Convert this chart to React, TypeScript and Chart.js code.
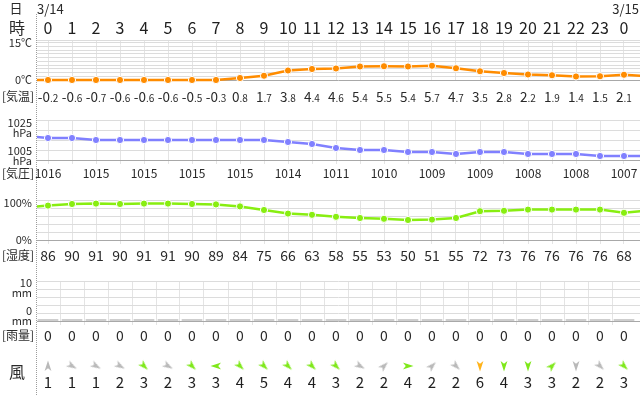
import React, { useEffect, useRef } from 'react';
import { Chart, registerables } from 'chart.js';

Chart.register(...registerables);

// ---------------- data ----------------
const hourLabels = ['0','1','2','3','4','5','6','7','8','9','10','11','12','13','14','15','16','17','18','19','20','21','22','23','0'];
const dateLabels = ['3/14', '3/15'];

const tempValues = [-0.2,-0.6,-0.7,-0.6,-0.6,-0.6,-0.5,-0.3,0.8,1.7,3.8,4.4,4.6,5.4,5.5,5.4,5.7,4.7,3.5,2.8,2.2,1.9,1.4,1.5,2.1];
const tempBefore = -0.1;
const tempAfter = 1.5;

const pressureValues = [1016,1016,1015,1015,1015,1015,1015,1015,1015,1015,1014,1013,1011,1010,1010,1009,1009,1008,1009,1009,1008,1008,1008,1007,1007];
const pressureBefore = 1017;
const pressureAfter = 1007;

const humidityValues = [86,90,91,90,91,91,90,89,84,75,66,63,58,55,53,50,51,55,72,73,76,76,76,76,68];
const humidityBefore = 81;
const humidityAfter = 74;

const rainValues = [0,0,0,0,0,0,0,0,0,0,0,0,0,0,0,0,0,0,0,0,0,0,0,0,0];

const windSpeeds = [1,1,1,2,3,2,3,3,4,5,4,4,3,2,2,4,2,2,6,4,3,3,2,2,3];
const windDirections = [0,120,120,120,135,120,135,270,135,135,135,135,135,120,45,90,45,135,180,180,180,45,180,135,135];

const tempTicks = [0,1.5,3,4.5,6,7.5,9,10.5,12,13.5,15,16];
const pressureTicks = [1005,1010,1015,1020,1025];
const humidityTicks = [0,20,40,60,80,100];
const rainTicks = [0,2,4,6,8,10];

// ---------------- styling ----------------
const FONT = '"Noto Sans CJK JP", "Noto Sans", sans-serif';
const TEXT = '#2a2a2a';
const X_MIN = -11 / 24;
const X_MAX = X_MIN + 603 / 24;

const BANDS = [
  { top: 0, h: 108, areaTop: 40, areaBottom: 80, tick: 0 },
  { top: 108, h: 80, areaTop: 120, areaBottom: 160, tick: 4 },
  { top: 188, h: 80, areaTop: 200, areaBottom: 240, tick: 4 },
  { top: 268, h: 77, areaTop: 281, areaBottom: 321, tick: 4 },
  { top: 345, h: 50, areaTop: 356, areaBottom: 376, tick: 0 },
];

function txt(ctx: any, s: string, x: number, cy: number, size: number, align: any = 'center', color = TEXT) {
  ctx.save();
  ctx.font = `${size}px ${FONT}`;
  ctx.fillStyle = color;
  ctx.textAlign = align;
  ctx.textBaseline = 'alphabetic';
  ctx.fillText(s, x, cy + size * 0.36);
  ctx.restore();
}

function tempText(ctx: any, v: number, x: number, cy: number) {
  const s = v.toFixed(1);
  const [a, b] = s.split('.');
  const big = 13.5, small = 10;
  ctx.save();
  ctx.fillStyle = TEXT;
  ctx.textBaseline = 'alphabetic';
  ctx.textAlign = 'left';
  ctx.font = `${big}px ${FONT}`;
  const wa = ctx.measureText(a).width;
  ctx.font = `${small}px ${FONT}`;
  const wb = ctx.measureText('.' + b).width;
  const x0 = x - (wa + wb) / 2;
  const base = cy + big * 0.36;
  ctx.font = `${big}px ${FONT}`;
  ctx.fillText(a, x0, base);
  ctx.font = `${small}px ${FONT}`;
  ctx.fillText('.' + b, x0 + wa, base);
  ctx.restore();
}

function xScale(gridValues: number[], tick: number, showGrid = true) {
  return {
    type: 'linear',
    min: X_MIN,
    max: X_MAX,
    offset: false,
    display: showGrid,
    afterBuildTicks: (s: any) => { s.ticks = gridValues.map((v) => ({ value: v })); },
    ticks: { display: false },
    border: { display: false },
    grid: { color: '#e4e4e4', lineWidth: 1, drawTicks: tick > 0, tickLength: tick, offset: false },
  };
}

function yScale(min: number, max: number, tickValues: number[]) {
  return {
    type: 'linear',
    min,
    max,
    afterBuildTicks: (s: any) => { s.ticks = tickValues.map((v) => ({ value: v })); },
    ticks: { display: false },
    border: { display: false },
    grid: {
      drawTicks: false,
      lineWidth: 1,
      color: (c: any) => (c.tick && c.tick.value === min ? '#a8a8a8' : '#dcdcdc'),
    },
  };
}

function layoutFor(b: any) {
  return {
    autoPadding: false,
    padding: { left: 37, right: 0, top: b.areaTop - b.top, bottom: b.top + b.h - b.areaBottom - b.tick },
  };
}

function lineDataset(points: any[], color: string) {
  return {
    data: points,
    borderColor: color,
    backgroundColor: color,
    borderWidth: 2.5,
    pointRadius: 3.6,
    pointBorderColor: '#ffffff',
    pointBorderWidth: 1,
    pointBackgroundColor: color,
    tension: 0,
    clip: { left: 0, right: 0, top: 8, bottom: 8 },
  };
}

function makeDart(color: string) {
  const c = document.createElement('canvas');
  c.width = 14;
  c.height = 14;
  const g = c.getContext('2d') as CanvasRenderingContext2D;
  g.translate(7, 7);
  g.beginPath();
  g.moveTo(0, -5.5);
  g.lineTo(3.4, 5);
  g.lineTo(0, 2.2);
  g.lineTo(-3.4, 5);
  g.closePath();
  g.fillStyle = color;
  g.fill();
  return c;
}

const hourIdx = hourLabels.map((_, i) => i);
const allGrid = hourIdx.slice();
const halfGrid = hourIdx.slice(0, 24).map((i) => i + 0.5);

export default function App() {
  const r0 = useRef<HTMLCanvasElement>(null);
  const r1 = useRef<HTMLCanvasElement>(null);
  const r2 = useRef<HTMLCanvasElement>(null);
  const r3 = useRef<HTMLCanvasElement>(null);
  const r4 = useRef<HTMLCanvasElement>(null);
  const refs = [r0, r1, r2, r3, r4];

  useEffect(() => {
    const charts: any[] = [];
    const common = { responsive: false, animation: false, devicePixelRatio: 1, events: [], plugins: { legend: { display: false }, tooltip: { enabled: false } } };

    // ---- header + temperature ----
    const b0 = BANDS[0];
    const tempPoints = [{ x: -1, y: Math.max(0, tempBefore) }]
      .concat(tempValues.map((v, i) => ({ x: i, y: Math.max(0, v) })))
      .concat([{ x: hourLabels.length, y: Math.max(0, tempAfter) }]);
    charts.push(new Chart(r0.current as any, {
      type: 'line',
      data: { datasets: [lineDataset(tempPoints, '#ff8c00') as any] },
      options: {
        ...common,
        layout: layoutFor(b0),
        scales: { x: xScale(allGrid, b0.tick) as any, y: yScale(0, 16, tempTicks) as any },
      } as any,
      plugins: [{
        id: 'tempText',
        afterDraw(chart: any) {
          const ctx = chart.ctx;
          const xs = chart.scales.x;
          txt(ctx, '日', 16, 8.5, 13);
          txt(ctx, '時', 17, 28.5, 16);
          txt(ctx, dateLabels[0], 37, 9, 13, 'left');
          txt(ctx, dateLabels[1], 639, 9, 13, 'right');
          hourLabels.forEach((h, i) => txt(ctx, h, xs.getPixelForValue(i), 28.5, 16, 'center', '#1e1e1e'));
          txt(ctx, '15℃', 32, 43, 11, 'right');
          txt(ctx, '0℃', 32, 80, 11, 'right');
          txt(ctx, '[気温]', 18, 97, 12);
          tempValues.forEach((v, i) => tempText(ctx, v, xs.getPixelForValue(i), 97));
        },
      }],
    }));

    // ---- pressure ----
    const b1 = BANDS[1];
    const pPoints = [{ x: -1, y: pressureBefore }]
      .concat(pressureValues.map((v, i) => ({ x: i, y: v })))
      .concat([{ x: hourLabels.length, y: pressureAfter }]);
    charts.push(new Chart(r1.current as any, {
      type: 'line',
      data: { datasets: [lineDataset(pPoints, '#8080ff') as any] },
      options: {
        ...common,
        layout: layoutFor(b1),
        scales: { x: xScale(allGrid, b1.tick) as any, y: yScale(1005, 1025, pressureTicks) as any },
      } as any,
      plugins: [{
        id: 'pText',
        afterDraw(chart: any) {
          const ctx = chart.ctx;
          const xs = chart.scales.x;
          const o = -b1.top;
          txt(ctx, '1025', 32, 123 + o, 11, 'right');
          txt(ctx, 'hPa', 32, 133 + o, 11, 'right');
          txt(ctx, '1005', 32, 151 + o, 11, 'right');
          txt(ctx, 'hPa', 32, 161 + o, 11, 'right');
          txt(ctx, '[気圧]', 18, 173.5 + o, 12);
          pressureValues.forEach((v, i) => {
            if (i % 2 === 0) txt(ctx, String(v), xs.getPixelForValue(i), 173.5 + o, 12);
          });
        },
      }],
    }));

    // ---- humidity ----
    const b2 = BANDS[2];
    const hPoints = [{ x: -1, y: humidityBefore }]
      .concat(humidityValues.map((v, i) => ({ x: i, y: v })))
      .concat([{ x: hourLabels.length, y: humidityAfter }]);
    charts.push(new Chart(r2.current as any, {
      type: 'line',
      data: { datasets: [lineDataset(hPoints, '#88ee11') as any] },
      options: {
        ...common,
        layout: layoutFor(b2),
        scales: { x: xScale(allGrid, b2.tick) as any, y: yScale(0, 100, humidityTicks) as any },
      } as any,
      plugins: [{
        id: 'hText',
        afterDraw(chart: any) {
          const ctx = chart.ctx;
          const xs = chart.scales.x;
          const o = -b2.top;
          txt(ctx, '100%', 32, 203.5 + o, 11, 'right');
          txt(ctx, '0%', 32, 240.5 + o, 11, 'right');
          txt(ctx, '[湿度]', 18, 256 + o, 12);
          humidityValues.forEach((v, i) => txt(ctx, String(v), xs.getPixelForValue(i), 256 + o, 14));
        },
      }],
    }));

    // ---- rain ----
    const b3 = BANDS[3];
    charts.push(new Chart(r3.current as any, {
      type: 'bar',
      data: {
        datasets: [{
          data: rainValues.map((v, i) => ({ x: i, y: v })),
          backgroundColor: '#c4c4c4',
          borderWidth: 0,
          minBarLength: 1.5,
          barThickness: 20,
        } as any],
      },
      options: {
        ...common,
        layout: layoutFor(b3),
        scales: { x: xScale(halfGrid, b3.tick) as any, y: yScale(0, 10, rainTicks) as any },
      } as any,
      plugins: [{
        id: 'rText',
        afterDraw(chart: any) {
          const ctx = chart.ctx;
          const xs = chart.scales.x;
          const o = -b3.top;
          txt(ctx, '10', 32, 283 + o, 11, 'right');
          txt(ctx, 'mm', 32, 293.5 + o, 11, 'right');
          txt(ctx, '0', 32, 311 + o, 11, 'right');
          txt(ctx, 'mm', 32, 321.5 + o, 11, 'right');
          txt(ctx, '[雨量]', 18, 336 + o, 12);
          rainValues.forEach((v, i) => txt(ctx, String(v), xs.getPixelForValue(i), 336 + o, 14));
        },
      }],
    }));

    // ---- wind ----
    const b4 = BANDS[4];
    const darts = { gray: makeDart('#b9b9b9'), green: makeDart('#7fe81a'), orange: makeDart('#ffb31a') };
    const dartFor = (s: number) => (s >= 6 ? darts.orange : s >= 3 ? darts.green : darts.gray);
    charts.push(new Chart(r4.current as any, {
      type: 'scatter',
      data: {
        datasets: [{
          data: windSpeeds.map((_, i) => ({ x: i, y: 0.5 })),
          pointStyle: (c: any) => dartFor(windSpeeds[c.dataIndex] ?? 0),
          pointRotation: (c: any) => windDirections[c.dataIndex] ?? 0,
          pointRadius: 6,
          showLine: false,
          clip: false,
        } as any],
      },
      options: {
        ...common,
        layout: layoutFor(b4),
        scales: {
          x: { ...(xScale(allGrid, 0) as any), display: false },
          y: { type: 'linear', min: 0, max: 1, display: false },
        },
      } as any,
      plugins: [{
        id: 'wText',
        afterDraw(chart: any) {
          const ctx = chart.ctx;
          const xs = chart.scales.x;
          const o = -b4.top;
          txt(ctx, '風', 17, 372 + o, 16);
          windSpeeds.forEach((v, i) => txt(ctx, String(v), xs.getPixelForValue(i), 383 + o, 15, 'center', '#1e1e1e'));
        },
      }],
    }));

    return () => charts.forEach((c) => c.destroy());
  }, []);

  return (
    <div style={{ position: 'absolute', left: 0, top: 0, width: 640, height: 395, background: '#ffffff', overflow: 'hidden' }}>
      {BANDS.map((b, i) => (
        <canvas
          key={i}
          ref={refs[i]}
          width={640}
          height={b.h}
          style={{ position: 'absolute', left: 0, top: b.top, width: 640, height: b.h, display: 'block' }}
        />
      ))}
      <div style={{ position: 'absolute', left: 36, top: 14, width: 0, height: 381, borderLeft: '1px dotted #9c9c9c' }} />
    </div>
  );
}
